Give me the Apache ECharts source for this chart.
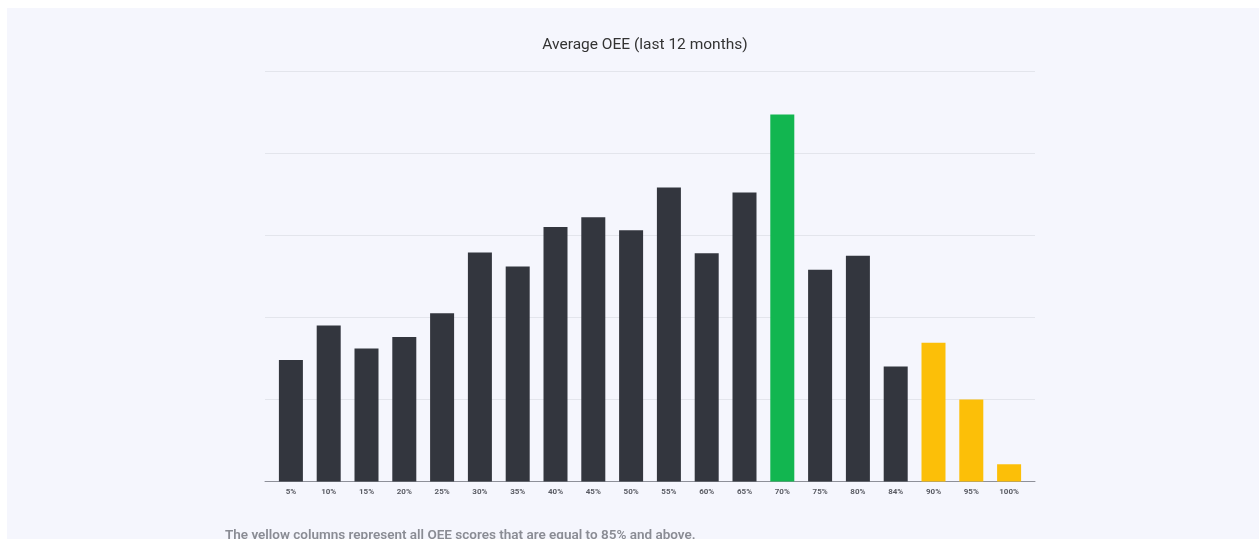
<!DOCTYPE html>
<html>
<head>
<meta charset="utf-8">
<script src="https://cdn.jsdelivr.net/npm/echarts@6/dist/echarts.min.js"></script>
<style>
html,body{margin:0;padding:0;background:#ffffff;}
#wrap{position:absolute;left:7px;top:8px;width:1252px;height:531px;background:#f5f6fd;}
#chart{position:absolute;left:-7px;top:-8px;width:1259px;height:539px;}
</style>
</head>
<body>
<div id="wrap"><div id="chart"></div></div>
<script>
const categories = ['5%','10%','15%','20%','25%','30%','35%','40%','45%','50%','55%','60%','65%','70%','75%','80%','84%','90%','95%','100%'];
const values = [1.48,1.90,1.62,1.76,2.05,2.79,2.62,3.10,3.22,3.06,3.58,2.78,3.52,4.47,2.58,2.75,1.40,1.69,1.00,0.21];
const highlightCategory = '70%';
const yellowCategories = ['90%','95%','100%'];
const titleText = 'Average OEE (last 12 months)';
const footnote = 'The yellow columns represent all OEE scores that are equal to 85% and above.';

const DARK = '#33363e', GREEN = '#12b650', YELLOW = '#fcbf08';
const barData = values.map((v, i) => ({
  value: v,
  itemStyle: { color: categories[i] === highlightCategory ? GREEN : (yellowCategories.includes(categories[i]) ? YELLOW : DARK) }
}));

const chart = echarts.init(document.getElementById('chart'));
chart.setOption({
  backgroundColor: 'transparent',
  animation: false,
  title: {
    text: titleText, left: 640, top: 32, textAlign: 'center',
    textStyle: { fontFamily: 'Roboto', fontSize: 15.5, fontWeight: 'normal', color: '#333333' }
  },
  graphic: [{
    type: 'text', left: 225, top: 529,
    style: { text: footnote, font: '600 13.5px Roboto', fill: '#8a8c94' }
  }],
  grid: [
    { left: 265, right: 224, top: 71, bottom: 57.5 },
    { left: 272, right: 231, top: 71, bottom: 57.5 }
  ],
  xAxis: [
    { gridIndex: 0, type: 'value', min: 0, max: 1,
      axisLine: { show: true, lineStyle: { color: '#8e9099', width: 1 } },
      axisTick: { show: false }, axisLabel: { show: false }, splitLine: { show: false } },
    { gridIndex: 1, type: 'category', data: categories,
      axisLine: { show: false }, axisTick: { show: false },
      axisLabel: { fontFamily: 'Roboto', fontSize: 8, fontWeight: 'bold', color: '#5a5c64', margin: 6 } }
  ],
  yAxis: [
    { gridIndex: 0, type: 'value', min: 0, max: 5, interval: 1,
      axisLine: { show: false }, axisTick: { show: false }, axisLabel: { show: false },
      splitLine: { lineStyle: { color: '#e3e5ec', width: 1 } } },
    { gridIndex: 1, type: 'value', min: 0, max: 5, interval: 1, show: false, splitLine: { show: false } }
  ],
  series: [{
    type: 'bar', xAxisIndex: 1, yAxisIndex: 1, data: barData, barWidth: 24
  }]
});
</script>
</body>
</html>
